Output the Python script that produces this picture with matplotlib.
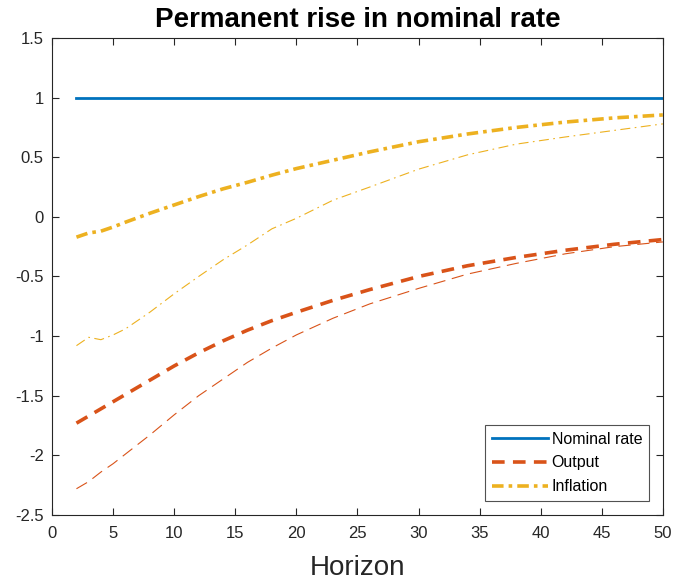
import numpy as np
import matplotlib.pyplot as plt

plt.rcParams['font.family'] = ['Liberation Sans', 'DejaVu Sans']

# Impulse responses, horizon 2..50
horizon = [2, 3, 4, 5, 6, 8, 10, 12, 14, 16, 18, 20, 23, 26, 30, 34, 38, 42, 46, 50]
nominal_rate = [1.0] * len(horizon)

output_a = [-1.73, -1.67, -1.61, -1.55, -1.49, -1.37, -1.25, -1.14, -1.04, -0.95,
            -0.87, -0.80, -0.70, -0.61, -0.50, -0.41, -0.34, -0.28, -0.23, -0.19]
output_b = [-2.28, -2.22, -2.14, -2.07, -1.99, -1.83, -1.66, -1.50, -1.36, -1.22,
            -1.10, -0.99, -0.85, -0.73, -0.60, -0.48, -0.39, -0.31, -0.25, -0.21]

inflation_a = [-0.17, -0.135, -0.12, -0.085, -0.045, 0.03, 0.10, 0.17, 0.235, 0.29,
               0.35, 0.405, 0.475, 0.545, 0.63, 0.695, 0.75, 0.795, 0.83, 0.855]
inflation_b = [-1.08, -1.01, -1.03, -0.99, -0.94, -0.80, -0.645, -0.50, -0.36, -0.235,
               -0.10, -0.012, 0.14, 0.25, 0.40, 0.52, 0.61, 0.67, 0.725, 0.78]

blue = '#0072BD'
orange = '#D95319'
yellow = '#EDB120'
axcol = '#262626'

fig = plt.figure(figsize=(6.73, 5.84), dpi=100)
ax = fig.add_axes([0.0773, 0.1182, 0.9077, 0.8167])

ax.plot(horizon, nominal_rate, color=blue, lw=2.0, label='Nominal rate')
ax.plot(horizon, output_a, color=orange, lw=2.6, ls='--', dashes=(3.5, 2.3), label='Output')
ax.plot(horizon, inflation_a, color=yellow, lw=2.6, ls='-.', dashes=(3.2, 1.4, 1.0, 1.4),
        label='Inflation')
ax.plot(horizon, output_b, color=orange, lw=0.8, ls='--', dashes=(11, 6))
ax.plot(horizon, inflation_b, color=yellow, lw=0.8, ls='-.', dashes=(9, 4, 1.5, 4))

ax.set_xlim(0, 50)
ax.set_ylim(-2.5, 1.5)
ax.set_xticks(np.arange(0, 51, 5))
ax.set_yticks(np.arange(-2.5, 1.51, 0.5))
ax.set_yticklabels(['-2.5', '-2', '-1.5', '-1', '-0.5', '0', '0.5', '1', '1.5'])

ax.tick_params(direction='in', top=True, right=True, length=5, width=0.8,
               colors=axcol, labelsize=12)
ax.tick_params(axis='x', pad=8)
ax.tick_params(axis='y', pad=6)
for s in ax.spines.values():
    s.set_color(axcol)
    s.set_linewidth(0.8)

ax.set_xlabel('Horizon', fontsize=20, color=axcol, labelpad=10)
ax.set_title('Permanent rise in nominal rate', fontsize=20, fontweight='bold', pad=8)

leg = ax.legend(loc='lower right', fontsize=11.5, frameon=True, fancybox=False,
                edgecolor=axcol, handlelength=3.5, handletextpad=0.25,
                borderpad=0.4, labelspacing=0.55, borderaxespad=0.9)
leg.get_frame().set_linewidth(0.8)

fig.savefig('out.png', dpi=100)
